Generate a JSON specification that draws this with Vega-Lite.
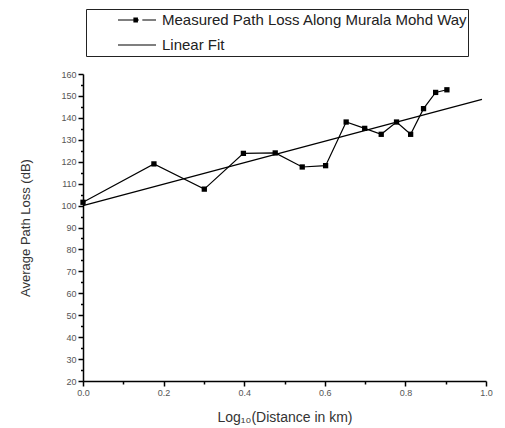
{
  "$schema": "https://vega.github.io/schema/vega-lite/v6.json",
  "width": 403,
  "height": 307,
  "autosize": {"type": "none"},
  "padding": {"left": 83, "top": 74, "right": 19, "bottom": 47},
  "background": "white",
  "config": {
    "view": {"stroke": null},
    "font": "Liberation Sans"
  },
  "data": {
    "values": [
      {"series": "Measured Path Loss Along Murala Mohd Way", "logd": 0.0, "loss": 101.5},
      {"series": "Measured Path Loss Along Murala Mohd Way", "logd": 0.176, "loss": 119.0},
      {"series": "Measured Path Loss Along Murala Mohd Way", "logd": 0.301, "loss": 107.5},
      {"series": "Measured Path Loss Along Murala Mohd Way", "logd": 0.398, "loss": 123.8},
      {"series": "Measured Path Loss Along Murala Mohd Way", "logd": 0.477, "loss": 124.0},
      {"series": "Measured Path Loss Along Murala Mohd Way", "logd": 0.544, "loss": 117.6},
      {"series": "Measured Path Loss Along Murala Mohd Way", "logd": 0.602, "loss": 118.2},
      {"series": "Measured Path Loss Along Murala Mohd Way", "logd": 0.653, "loss": 138.1},
      {"series": "Measured Path Loss Along Murala Mohd Way", "logd": 0.699, "loss": 135.2},
      {"series": "Measured Path Loss Along Murala Mohd Way", "logd": 0.740, "loss": 132.5},
      {"series": "Measured Path Loss Along Murala Mohd Way", "logd": 0.778, "loss": 138.1},
      {"series": "Measured Path Loss Along Murala Mohd Way", "logd": 0.813, "loss": 132.5},
      {"series": "Measured Path Loss Along Murala Mohd Way", "logd": 0.845, "loss": 144.2},
      {"series": "Measured Path Loss Along Murala Mohd Way", "logd": 0.875, "loss": 151.6},
      {"series": "Measured Path Loss Along Murala Mohd Way", "logd": 0.903, "loss": 152.8},
      {"series": "Linear Fit", "logd": 0.0, "loss": 100.0},
      {"series": "Linear Fit", "logd": 0.99, "loss": 148.4}
    ]
  },
  "encoding": {
    "x": {
      "field": "logd",
      "type": "quantitative",
      "scale": {"domain": [0, 1], "nice": false, "zero": false},
      "axis": {
        "title": "Log₁₀(Distance in km)",
        "values": [0, 0.1, 0.2, 0.3, 0.4, 0.5, 0.6, 0.7, 0.8, 0.9, 1.0],
        "format": ".1f",
        "labelExpr": "round(datum.value * 10) % 2 === 0 ? datum.label : ''",
        "tickSize": {"condition": {"test": "round(datum.value * 10) % 2 === 0", "value": 5}, "value": 3},
        "grid": false,
        "domainColor": "#000",
        "domainWidth": 1.5,
        "tickColor": "#000",
        "tickWidth": 1.5,
        "labelFontSize": 9,
        "labelColor": "#555",
        "labelPadding": 2,
        "labelFlush": false,
        "titleFontSize": 14,
        "titleFontWeight": "normal",
        "titleColor": "#333",
        "titlePadding": 13
      }
    },
    "y": {
      "field": "loss",
      "type": "quantitative",
      "scale": {"domain": [20, 160], "nice": false, "zero": false},
      "axis": {
        "title": "Average Path Loss (dB)",
        "values": [20, 25, 30, 35, 40, 45, 50, 55, 60, 65, 70, 75, 80, 85, 90, 95, 100, 105, 110, 115, 120, 125, 130, 135, 140, 145, 150, 155, 160],
        "format": "d",
        "labelExpr": "datum.value % 10 === 0 ? datum.label : ''",
        "tickSize": {"condition": {"test": "datum.value % 10 === 0", "value": 5}, "value": 2.5},
        "grid": false,
        "domainColor": "#000",
        "domainWidth": 1.5,
        "tickColor": "#000",
        "tickWidth": 1.5,
        "labelFontSize": 9,
        "labelColor": "#555",
        "labelPadding": 2,
        "labelFlush": false,
        "titleFontSize": 13,
        "titleFontWeight": "normal",
        "titleColor": "#333",
        "titlePadding": 28
      }
    }
  },
  "layer": [
    {
      "mark": {"type": "line", "strokeWidth": 1.2, "color": "#000", "clip": false},
      "encoding": {
        "detail": {"field": "series", "type": "nominal"}
      }
    },
    {
      "transform": [{"filter": "datum.series === 'Measured Path Loss Along Murala Mohd Way'"}],
      "mark": {"type": "point", "shape": "square", "filled": true, "size": 28, "color": "#000", "opacity": 1, "clip": false},
      "encoding": {}
    },
    {
      "mark": {"type": "point", "opacity": 0, "color": "#000", "clip": false},
      "encoding": {
        "shape": {
          "field": "series",
          "type": "nominal",
          "scale": {
            "domain": ["Measured Path Loss Along Murala Mohd Way", "Linear Fit"],
            "range": [
              "M-2.61,0M-1,0H0.1M0.28,0H1M-0.19,-0.1H0.05M-0.19,-0.05H0.05M-0.19,0.05H0.05M-0.19,0.1H0.05",
              "M-2.61,0M-1,0H1"
            ]
          },
          "legend": {
            "orient": "none",
            "legendX": 3,
            "legendY": -65,
            "title": null,
            "strokeColor": "#222",
            "fillColor": "white",
            "padding": 0,
            "symbolSize": 1444,
            "symbolStrokeWidth": 1.2,
            "symbolStrokeColor": "#000",
            "symbolOpacity": 1,
            "symbolOffset": 31,
            "clipHeight": 22,
            "rowPadding": 3,
            "labelFontSize": 15,
            "labelColor": "#222",
            "labelOffset": 5,
            "labelLimit": 0,
            "labelExpr": "datum.label + '\u00a0\u00a0\u00a0\u00a0\u00a0\u00a0\u00a0\u00a0\u00a0\u00a0\u00a0\u00a0\u00a0\u00a0'"
          }
        }
      }
    }
  ]
}
